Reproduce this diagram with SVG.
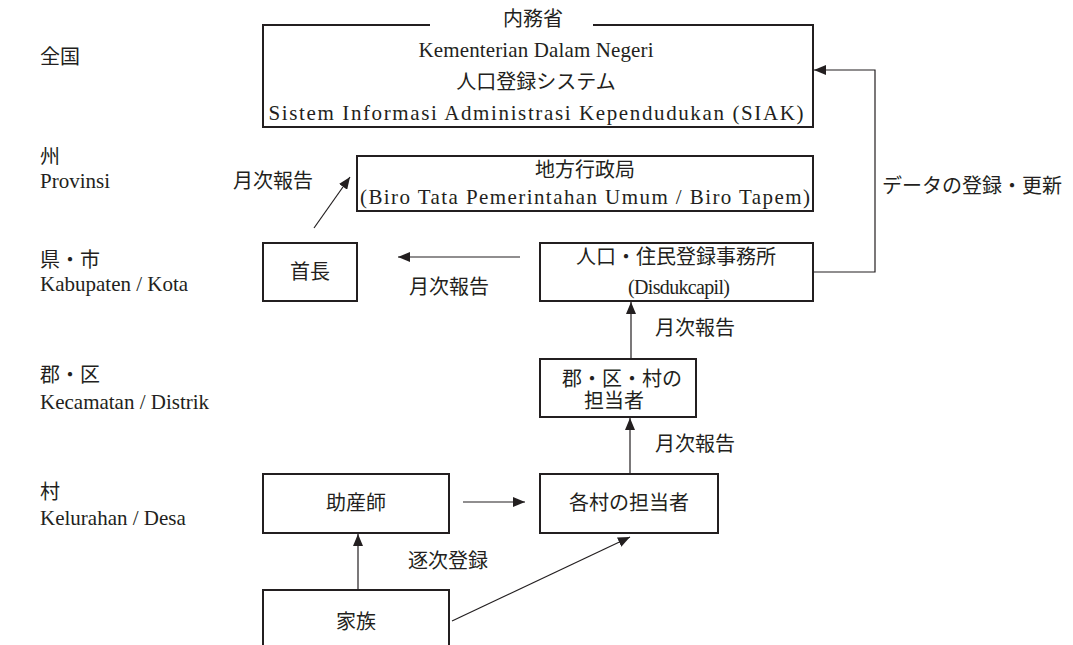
<svg xmlns="http://www.w3.org/2000/svg" width="1073" height="645" viewBox="0 0 1073 645">
<style>
text{font-family:'Liberation Serif','Noto Sans CJK JP',serif;font-size:20px;fill:#231f20}
.l{font-size:21px}
.c{text-anchor:middle}
.box{fill:none;stroke:#231f20;stroke-width:2}
.ln{fill:none;stroke:#231f20;stroke-width:1.2}
</style>
<defs>
<marker id="ah" viewBox="0 0 12 10" refX="12" refY="5" markerWidth="12" markerHeight="10" markerUnits="userSpaceOnUse" orient="auto">
<path d="M0,0 L12,5 L0,10 Z" fill="#231f20"/>
</marker>
</defs>
<rect width="1073" height="645" fill="#fff"/>
<g id="levels">
<text x="40" y="64">全国</text>
<text x="40" y="164">州</text>
<text class="l" x="40" y="188">Provinsi</text>
<text x="40" y="267">県・市</text>
<text class="l" x="40" y="291">Kabupaten / Kota</text>
<text x="40" y="382">郡・区</text>
<text class="l" x="40" y="409">Kecamatan / Distrik</text>
<text x="40" y="499">村</text>
<text class="l" x="40" y="525">Kelurahan / Desa</text>
</g>
<g id="ministry">
<path class="box" d="M430,25 H263 V127 H813 V25 H593"/>
<text class="c" x="533" y="26">内務省</text>
<text class="l c" x="536" y="57" textLength="235">Kementerian Dalam Negeri</text>
<text class="c" x="536" y="89">人口登録システム</text>
<text class="l c" x="536" y="120" textLength="535">Sistem Informasi Administrasi Kependudukan (SIAK)</text>
</g>
<g id="province">
<rect class="box" x="357" y="156" width="456" height="55"/>
<text class="c" x="585" y="177">地方行政局</text>
<text class="l c" x="585" y="204" textLength="450">(Biro Tata Pemerintahan Umum / Biro Tapem)</text>
</g>
<g id="head">
<rect class="box" x="263" y="243" width="94" height="58"/>
<text class="c" x="310" y="279">首長</text>
</g>
<g id="disdukcapil">
<rect class="box" x="540" y="243" width="273" height="58"/>
<text class="c" x="676" y="264">人口・住民登録事務所</text>
<text class="c" x="679" y="294" textLength="102">(Disdukcapil)</text>
</g>
<g id="district">
<rect class="box" x="540" y="359" width="156" height="58"/>
<text class="c" x="622" y="386">郡・区・村の</text>
<text class="c" x="614" y="408">担当者</text>
</g>
<g id="village">
<rect class="box" x="540" y="474" width="178" height="59"/>
<text class="c" x="629" y="510">各村の担当者</text>
</g>
<g id="midwife">
<rect class="box" x="263" y="474" width="186" height="59"/>
<text class="c" x="356" y="510">助産師</text>
</g>
<g id="family">
<rect class="box" x="263" y="590" width="186" height="70"/>
<text class="c" x="356" y="629">家族</text>
</g>
<g id="connectors">
<line class="ln" x1="358" y1="590" x2="358" y2="534" marker-end="url(#ah)"/>
<line class="ln" x1="452" y1="621" x2="630" y2="537" marker-end="url(#ah)"/>
<line class="ln" x1="463" y1="502" x2="525" y2="502" marker-end="url(#ah)"/>
<line class="ln" x1="630" y1="474" x2="630" y2="418" marker-end="url(#ah)"/>
<line class="ln" x1="631" y1="359" x2="631" y2="302" marker-end="url(#ah)"/>
<line class="ln" x1="520" y1="257" x2="398" y2="257" marker-end="url(#ah)"/>
<line class="ln" x1="314" y1="228" x2="350" y2="177" marker-end="url(#ah)"/>
<polyline class="ln" points="813,272 875,272 875,70 814,70" marker-end="url(#ah)"/>
<text x="233" y="188">月次報告</text>
<text x="409" y="294">月次報告</text>
<text x="655" y="335">月次報告</text>
<text x="655" y="451">月次報告</text>
<text x="408" y="568">逐次登録</text>
<text x="882" y="193">データの登録・更新</text>
</g>
</svg>
